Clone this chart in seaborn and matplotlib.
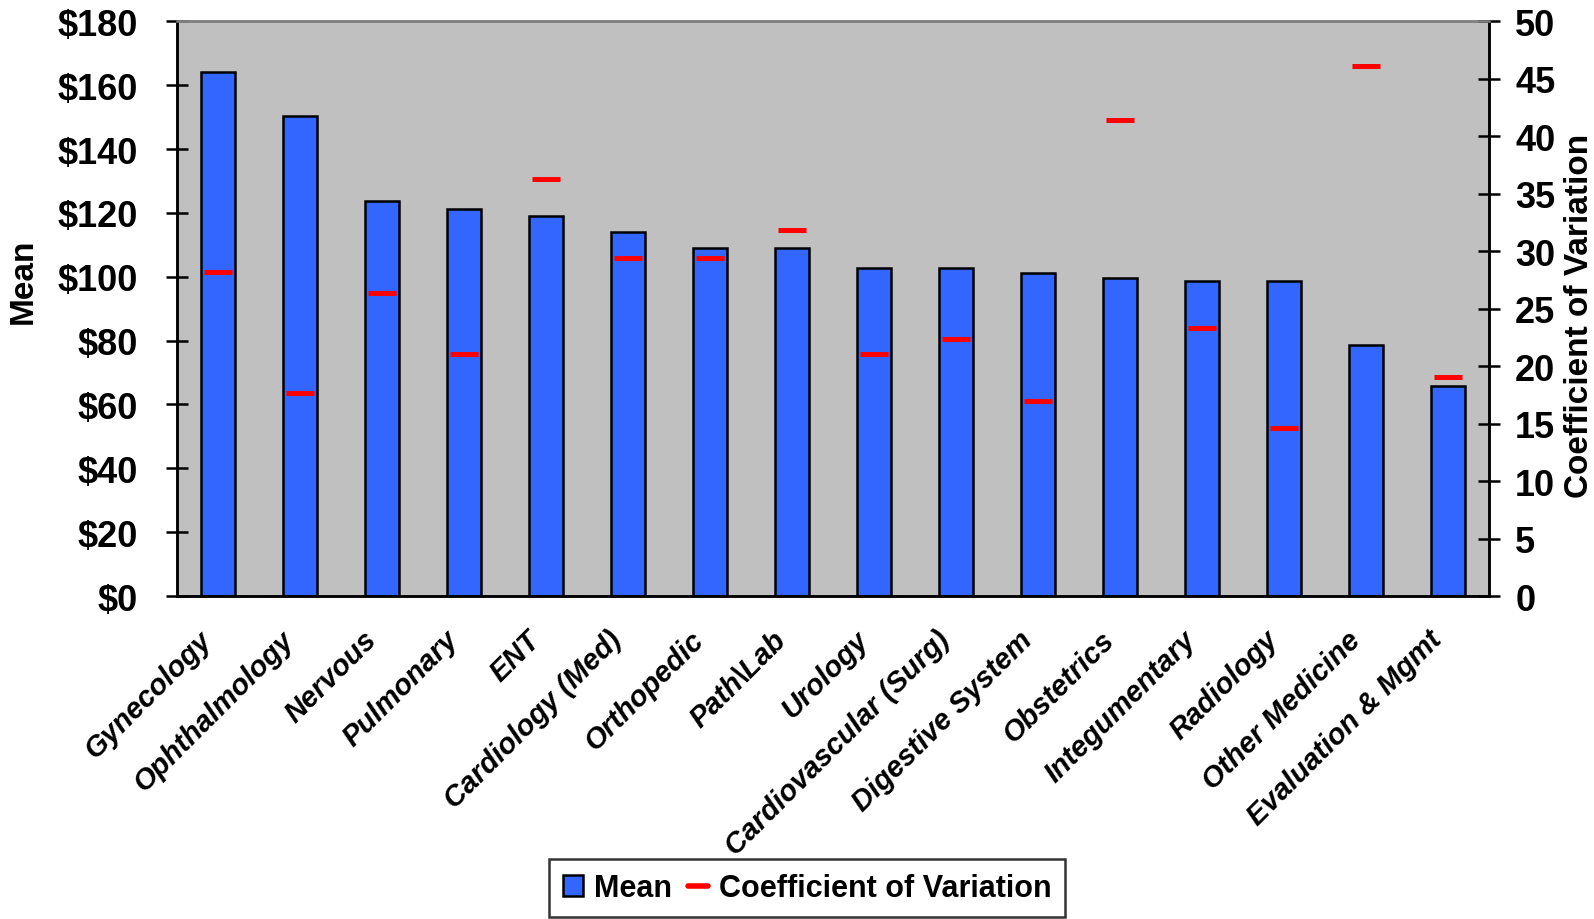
import matplotlib
matplotlib.use("Agg")
import matplotlib.pyplot as plt
import matplotlib.transforms as mtransforms
from matplotlib.patches import Patch
from matplotlib.lines import Line2D
import numpy as np
import pandas as pd
import seaborn as sns

sns.set_style("white")
plt.rcParams['font.family'] = ['Liberation Sans', 'DejaVu Sans']
plt.rcParams['font.weight'] = 'bold'
plt.rcParams['text.color'] = 'black'
plt.rcParams['axes.labelcolor'] = 'black'
plt.rcParams['xtick.color'] = 'black'
plt.rcParams['ytick.color'] = 'black'

categories = ["Gynecology", "Ophthalmology", "Nervous", "Pulmonary", "ENT",
              "Cardiology (Med)", "Orthopedic", "Path\\Lab", "Urology",
              "Cardiovascular (Surg)", "Digestive System", "Obstetrics",
              "Integumentary", "Radiology", "Other Medicine", "Evaluation & Mgmt"]
mean_values = [164.0, 150.4, 123.8, 121.3, 118.9, 114.0, 109.1, 109.1,
               102.7, 102.7, 101.3, 99.6, 98.7, 98.7, 78.5, 65.8]
cv_values = [28.2, 17.7, 26.4, 21.1, 36.3, 29.4, 29.4, 31.8,
             21.1, 22.4, 17.0, 41.4, 23.3, 14.6, 46.1, 19.1]
mean_ticks = [0, 20, 40, 60, 80, 100, 120, 140, 160, 180]
cv_ticks = [0, 5, 10, 15, 20, 25, 30, 35, 40, 45, 50]

df = pd.DataFrame({"category": categories, "mean": mean_values, "cv": cv_values})

fig = plt.figure(figsize=(15.94, 9.2), dpi=100)
ax = fig.add_axes([0.111, 0.351, 0.823, 0.6248])
ax.set_facecolor("#C0C0C0")

sns.barplot(data=df, x="category", y="mean", ax=ax, color="#3366FF",
            saturation=1, width=0.41, edgecolor="black", linewidth=1.8)

ax2 = ax.twinx()
ax2.plot(df["category"], df["cv"], linestyle="none", marker="_",
         markersize=20, markeredgewidth=3.6, color="#FF0000")

n = len(categories)
ax.set_xlim(-0.5, n - 0.5)
ax.set_ylim(0, 180)
ax2.set_ylim(0, 50)

ax.set_yticks(mean_ticks)
ax.set_yticklabels(["${}".format(v) for v in mean_ticks])
ax2.set_yticks(cv_ticks)
ax2.set_yticklabels([str(v) for v in cv_ticks])

for a in (ax, ax2):
    for s in a.spines.values():
        s.set_linewidth(1.8)
        s.set_color("black")
    a.spines["top"].set_color("#808080")
ax.tick_params(axis="y", direction="inout", length=16, width=1.8,
               labelsize=26, pad=20)
ax2.tick_params(axis="y", direction="inout", length=16, width=1.8,
                labelsize=26, pad=11)

# category boundaries carry the ticks, centres carry the labels
ax.set_xticks(np.arange(n))
ax.set_xticks(np.arange(-0.5, n, 1.0), minor=True)
ax.tick_params(axis="x", which="major", length=0, pad=28)
ax.tick_params(axis="x", which="minor", direction="inout", length=16, width=1.8)
ax.set_xticklabels(categories, rotation=45, ha="right", va="center",
                   rotation_mode="anchor", fontsize=21, fontstyle="italic",
                   fontweight="bold")
offset = mtransforms.ScaledTranslation(-10 / 100, 0, fig.dpi_scale_trans)
for lbl in ax.get_xticklabels():
    lbl.set_transform(lbl.get_transform() + offset)

ax.set_xlabel("")
ax.set_ylabel("Mean", fontsize=24, fontweight="bold")
ax.yaxis.set_label_coords(-0.105, 0.55)
ax2.set_ylabel("Coefficient of Variation", fontsize=24, fontweight="bold",
               rotation=90)
ax2.yaxis.set_label_coords(1.057, 0.49)

handles = [Patch(facecolor="#3366FF", edgecolor="black", linewidth=1.8),
           Line2D([0], [0], color="#FF0000", linewidth=4)]
leg = fig.legend(handles, ["Mean", "Coefficient of Variation"], loc="lower center",
                 bbox_to_anchor=(0.5063, 0.0), ncol=2, fontsize=22,
                 frameon=True, fancybox=False, handlelength=0.65,
                 handleheight=0.65, handletextpad=0.36, columnspacing=0.52,
                 borderpad=0.45, borderaxespad=0.07)
leg.get_frame().set_edgecolor("black")
leg.get_frame().set_linewidth(1.8)

fig.savefig("out.png", dpi=100)
